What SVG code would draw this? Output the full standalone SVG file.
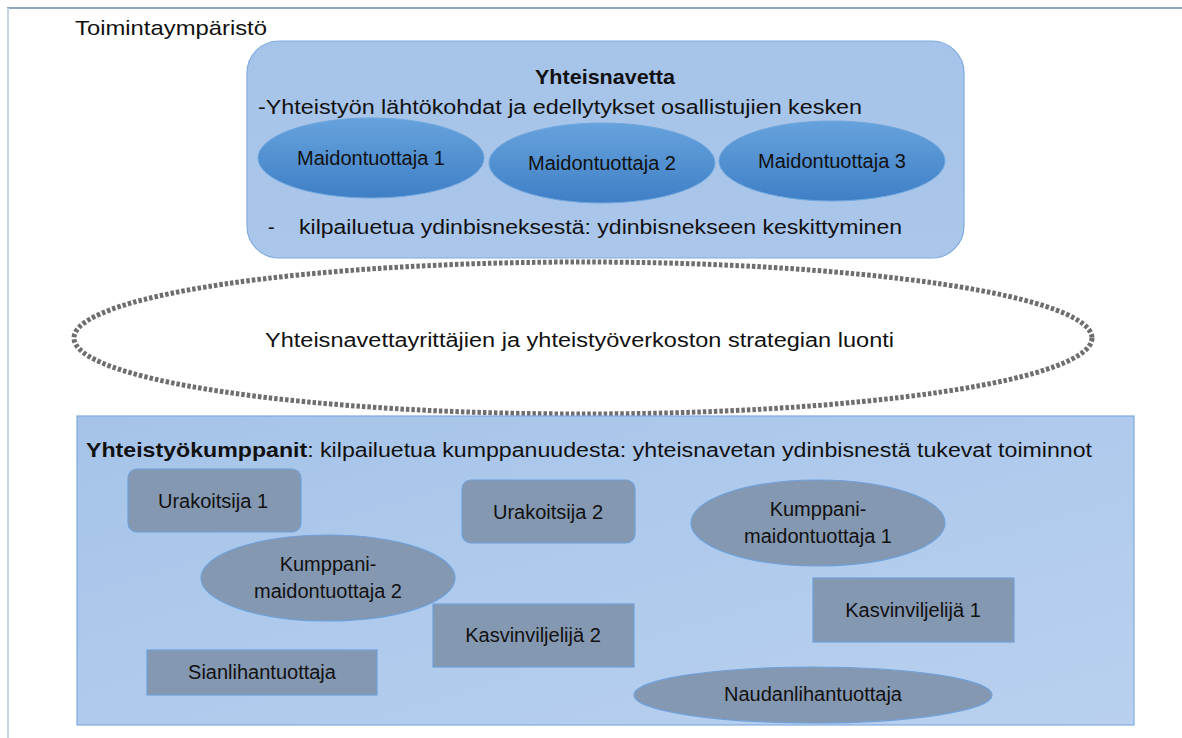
<svg xmlns="http://www.w3.org/2000/svg" width="1182" height="738" viewBox="0 0 1182 738">
<defs>
<linearGradient id="gBlue" x1="0" y1="0" x2="0" y2="1">
<stop offset="0" stop-color="#66a2dc"/>
<stop offset="1" stop-color="#3f7fc6"/>
</linearGradient>
<linearGradient id="gTop" x1="0" y1="0" x2="0" y2="1">
<stop offset="0" stop-color="#a6c3e9"/>
<stop offset="1" stop-color="#aac6ea"/>
</linearGradient>
<linearGradient id="gBottom" x1="0" y1="0" x2="1" y2="1">
<stop offset="0" stop-color="#a5c3e9"/>
<stop offset="1" stop-color="#b9d1ef"/>
</linearGradient>
</defs>
<style>
text{font-family:"Liberation Sans",Arial,sans-serif;fill:#111;}
.t20{font-size:20px;}
.lbl{font-size:20px;text-anchor:middle;}
.gray{fill:#8598b1;stroke:#6fa0d8;stroke-width:1.2;}
.blue{fill:url(#gBlue);stroke:#6ea6de;stroke-width:1;}
</style>
<rect x="0" y="0" width="1182" height="738" fill="#ffffff"/>
<line x1="7" y1="8" x2="1182" y2="8" stroke="#8ea6c0" stroke-width="2"/>
<line x1="8" y1="8" x2="8" y2="738" stroke="#c7d4e6" stroke-width="2"/>
<text x="75" y="35" style="font-size:21px" textLength="192" lengthAdjust="spacingAndGlyphs">Toimintaympäristö</text>

<g id="yhteisnavetta">
<rect x="247" y="41" width="717" height="217" rx="32" fill="url(#gTop)" stroke="#80abdf" stroke-width="1.2"/>
<text x="535" y="84" style="font-size:21px" font-weight="bold" textLength="140" lengthAdjust="spacingAndGlyphs">Yhteisnavetta</text>
<text x="258" y="114" class="t20" textLength="604" lengthAdjust="spacingAndGlyphs">-Yhteistyön lähtökohdat ja edellytykset osallistujien kesken</text>
<text x="268" y="234" class="t20">-</text>
<text x="299" y="234" class="t20" textLength="603" lengthAdjust="spacingAndGlyphs">kilpailuetua ydinbisneksestä: ydinbisnekseen keskittyminen</text>
</g>

<g id="maidontuottaja1">
<ellipse cx="371" cy="158" rx="113" ry="40" class="blue"/>
<text x="371" y="165" class="lbl">Maidontuottaja 1</text>
</g>
<g id="maidontuottaja2">
<ellipse cx="602" cy="163" rx="113" ry="40" class="blue"/>
<text x="602" y="170" class="lbl">Maidontuottaja 2</text>
</g>
<g id="maidontuottaja3">
<ellipse cx="832" cy="161" rx="113" ry="40" class="blue"/>
<text x="832" y="168" class="lbl">Maidontuottaja 3</text>
</g>

<g id="strategia">
<ellipse cx="583" cy="338" rx="509" ry="76" fill="none" stroke="#6e6e6e" stroke-width="5" stroke-dasharray="3.5 2"/>
<text x="265" y="347" class="t20" textLength="629" lengthAdjust="spacingAndGlyphs">Yhteisnavettayrittäjien ja yhteistyöverkoston strategian luonti</text>
</g>

<g id="yhteistyokumppanit">
<rect x="77" y="416" width="1057" height="309" fill="url(#gBottom)" stroke="#80abdf" stroke-width="1.2"/>
<text x="86" y="457" class="t20" textLength="1006" lengthAdjust="spacingAndGlyphs"><tspan font-weight="bold">Yhteistyökumppanit</tspan>: kilpailuetua kumppanuudesta: yhteisnavetan ydinbisnestä tukevat toiminnot</text>
</g>

<g id="urakoitsija1">
<rect x="128" y="469" width="173" height="63" rx="9" class="gray"/>
<text x="213" y="508" class="lbl">Urakoitsija 1</text>
</g>
<g id="urakoitsija2">
<rect x="462" y="480" width="173" height="63" rx="9" class="gray"/>
<text x="548" y="519" class="lbl">Urakoitsija 2</text>
</g>
<g id="kumppanimaidontuottaja1">
<ellipse cx="818" cy="523" rx="127" ry="43" class="gray"/>
<text x="818" y="516" class="lbl">Kumppani-</text>
<text x="818" y="543" class="lbl">maidontuottaja 1</text>
</g>
<g id="kumppanimaidontuottaja2">
<ellipse cx="328" cy="578" rx="127" ry="43" class="gray"/>
<text x="328" y="571" class="lbl">Kumppani-</text>
<text x="328" y="598" class="lbl">maidontuottaja 2</text>
</g>
<g id="kasvinviljelija2">
<rect x="433" y="604" width="201" height="63" class="gray"/>
<text x="533" y="642" class="lbl">Kasvinviljelijä 2</text>
</g>
<g id="kasvinviljelija1">
<rect x="813" y="578" width="201" height="64" class="gray"/>
<text x="913" y="617" class="lbl">Kasvinviljelijä 1</text>
</g>
<g id="sianlihantuottaja">
<rect x="147" y="650" width="230" height="45" class="gray"/>
<text x="262" y="679" class="lbl">Sianlihantuottaja</text>
</g>
<g id="naudanlihantuottaja">
<ellipse cx="813" cy="695" rx="179" ry="28" class="gray"/>
<text x="813" y="701" class="lbl">Naudanlihantuottaja</text>
</g>

<g id="connectors"></g>
</svg>
